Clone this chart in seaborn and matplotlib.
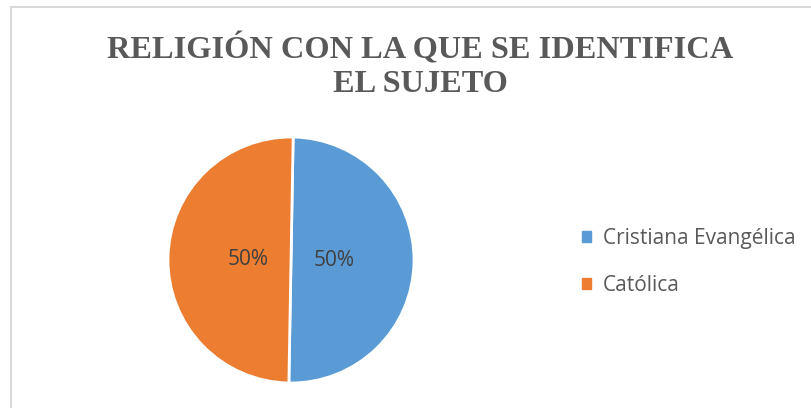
import matplotlib
matplotlib.use("Agg")
import matplotlib.pyplot as plt
import seaborn as sns
from matplotlib.patches import Patch
from matplotlib.lines import Line2D

# datos
categorias = ["Cristiana Evangélica", "Católica"]
porcentajes = [50, 50]
colores = ["#5B9BD5", "#ED7D31"]
titulo = "RELIGIÓN CON LA QUE SE IDENTIFICA\nEL SUJETO"

sns.set_theme(style="white")
plt.rcParams['font.family'] = ['Open Sans', 'DejaVu Sans']

fig = plt.figure(figsize=(8.11, 4.08), dpi=100)
fig.patch.set_facecolor("white")

# borde del gráfico (solo arriba e izquierda visibles)
fig.add_artist(Line2D([11 / 811, 11 / 811], [0, 1 - 7 / 408], color="#D9D9D9", lw=1.5))
fig.add_artist(Line2D([11 / 811, 1], [1 - 7 / 408, 1 - 7 / 408], color="#D9D9D9", lw=1.5))

ax = fig.add_axes([(291 - 123) / 811, (408 - 383) / 408, 246 / 811, 246 / 408])
wedges, textos, autotextos = ax.pie(
    porcentajes, colors=colores, startangle=89, counterclock=False,
    autopct=lambda p: f"{p:.0f}%", pctdistance=0.35,
    wedgeprops=dict(edgecolor="white", linewidth=2),
    textprops=dict(color="#404040", fontsize=15),
)
ax.set_xlim(-1.0, 1.0)
ax.set_ylim(-1.0, 1.0)
ax.set_aspect("equal")
ax.axis("off")

fig.text(420 / 811, 1 - 66 / 408, titulo, ha="center", va="center",
         family="Liberation Serif", fontweight="bold", fontsize=23.3,
         color="#595959", linespacing=1.2)

handles = [Patch(facecolor=c, edgecolor=c) for c in colores]
fig.legend(handles, categorias, loc="center left",
           bbox_to_anchor=(563 / 811, 1 - 262 / 408), frameon=False,
           fontsize=15, handlelength=0.45, handleheight=0.45,
           handletextpad=0.55, labelspacing=1.25, labelcolor="#595959")

fig.savefig("out.png", dpi=100)
